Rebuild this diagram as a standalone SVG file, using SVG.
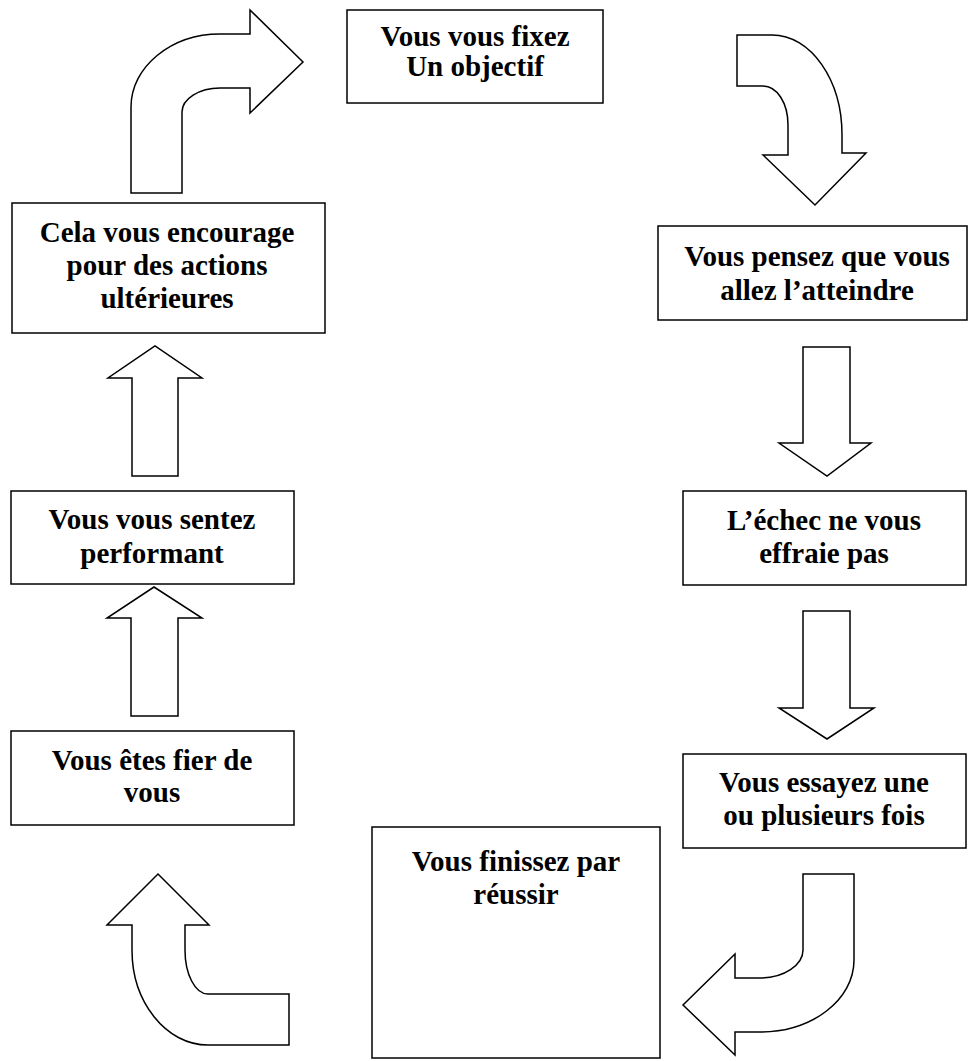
<svg xmlns="http://www.w3.org/2000/svg" width="968" height="1061" viewBox="0 0 968 1061">
<style>
.box{fill:#fff;stroke:#000;stroke-width:1.5}
.arr{fill:#fff;stroke:#000;stroke-width:1.5;stroke-linejoin:miter}
text{font-family:"Liberation Serif","Times New Roman",serif;font-weight:bold;font-size:29px;text-anchor:middle;fill:#000}
</style>
<rect width="968" height="1061" fill="#fff"/>
<g id="connectors">
<path class="arr" d="M131,193 L182,193 L182,112 C182,99 199,88 220,88 L250,88 L250,113 L303,62 L250,10 L250,34 L220,34 C171,34 131,67 131,107 Z"/>
<path class="arr" d="M737,35 L772,35 C811,35 842,80 842,135 L842,153 L866,153 L815,205 L763,155 L788,155 L788,125 C788,103 777,86 763,86 L737,86 Z"/>
<path class="arr" d="M803,874 L854,874 L854,960 C854,1000 812,1032 760,1032 L735,1032 L735,1055 L683,1005 L735,954 L735,978 L760,978 C784,978 803,965 803,950 Z"/>
<path class="arr" d="M289,994 L289,1045 L208,1045 C166,1045 132,1002 132,950 L132,925 L107,925 L158,874 L209,925 L185,925 L185,950 C185,974 195,994 208,994 Z"/>
<path class="arr" d="M132,476 L178,476 L178,378 L202,378 L155,346 L108,378 L132,378 Z"/>
<path class="arr" d="M131,716 L178,716 L178,618 L202,618 L154,587 L107,618 L131,618 Z"/>
<path class="arr" d="M803,347 L850,347 L850,443 L871,443 L827,476 L779,443 L803,443 Z"/>
<path class="arr" d="M803,611 L850,611 L850,708 L874,708 L827,739 L779,708 L803,708 Z"/>
</g>
<g id="n1"><rect class="box" x="347" y="10" width="256" height="93"/><text x="475" y="46">Vous vous fixez</text><text x="475" y="76">Un objectif</text></g>
<g id="n2"><rect class="box" x="658" y="226" width="309" height="94"/><text x="817" y="266">Vous pensez que vous</text><text x="817" y="300">allez l’atteindre</text></g>
<g id="n3"><rect class="box" x="683" y="491" width="283" height="94"/><text x="824" y="530">L’échec ne vous</text><text x="824" y="563">effraie pas</text></g>
<g id="n4"><rect class="box" x="683" y="754" width="283" height="94"/><text x="824" y="792">Vous essayez une</text><text x="824" y="825">ou plusieurs fois</text></g>
<g id="n5"><rect class="box" x="372" y="827" width="288" height="231"/><text x="516" y="871">Vous finissez par</text><text x="516" y="904">réussir</text></g>
<g id="n6"><rect class="box" x="11" y="731" width="283" height="94"/><text x="152" y="770">Vous êtes fier de</text><text x="152" y="802">vous</text></g>
<g id="n7"><rect class="box" x="11" y="491" width="283" height="93"/><text x="152" y="529">Vous vous sentez</text><text x="152" y="563">performant</text></g>
<g id="n8"><rect class="box" x="12" y="203" width="313" height="130"/><text x="167" y="242">Cela vous encourage</text><text x="167" y="275">pour des actions</text><text x="167" y="308">ultérieures</text></g>
</svg>
